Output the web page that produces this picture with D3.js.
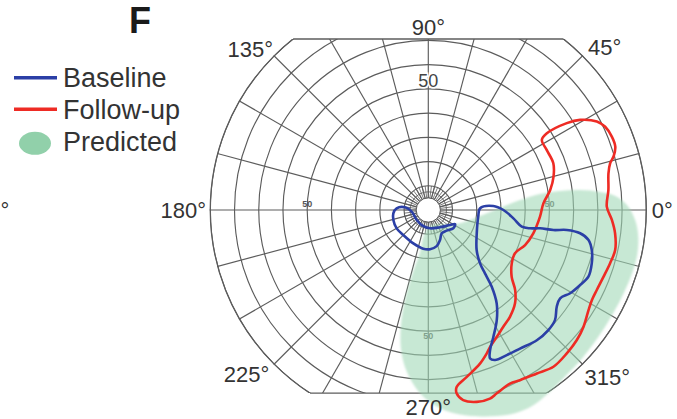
<!DOCTYPE html>
<html><head><meta charset="utf-8">
<script src="https://cdn.jsdelivr.net/npm/d3@7"></script>
<style>body{margin:0;background:#fff}svg{display:block}</style>
</head><body>
<svg id="chart" width="677" height="419"></svg>
<script>
// ---- data: [angle in degrees (counter-clockwise from 0°), eccentricity in degrees]
const ringValues = [10, 20, 30, 40, 50, 60, 70, 80, 90];
const innerRingValues = [5, 7.5];
const spokeAngles = [0,15,30,45,60,75,90,105,120,135,150,165,180,195,210,225,240,255,270,285,300,315,330,345];
const innerSpokeAngles = [0,7.5,15,22.5,30,37.5,45,52.5,60,67.5,75,82.5,90,97.5,105,112.5,120,127.5,135,142.5,150,157.5,165,172.5,180,187.5,195,202.5,210,217.5,225,232.5,240,247.5,255,262.5,270,277.5,285,292.5,300,307.5,315,322.5,330,337.5,345,352.5];
const angleLabels = ["0°","45°","90°","135°","180°","225°","270°","315°"];
const ringLabel = "50";
const seriesNames = ["Baseline", "Follow-up", "Predicted"];

const baselineMain = [[1.9,21.4],[3.5,26.9],[0,31.0],[-5.6,35.3],[-10.1,39.2],[-10.2,42.7],[-9.3,46.8],[-9.1,52.3],[-8.2,57.8],[-8.7,63.4],[-10.6,67.3],[-13.8,69.5],[-18.1,71.0],[-22.6,71.6],[-26.3,69.9],[-30.4,67.9],[-33.8,65.5],[-37.0,66.4],[-41.0,69.3],[-45,70.1],[-50.2,70.0],[-56.5,68.6],[-61.6,68.1],[-66.0,67.8],[-67.4,66.4],[-66.2,63.2],[-62.8,58.8],[-58.1,53.5],[-53.8,47.8],[-50.4,41.1],[-48.2,35.1],[-45.9,30.7],[-39.6,25.9],[-25.7,22.2],[-7.6,20.8]];
const baselineCentral = [[185.4,14.5],[176.9,13.1],[173.4,9.7],[185.8,6.9],[220.8,6.3],[246.3,6.8],[275.3,7.6],[304.1,8.6],[325.3,10.9],[332.3,12.5],[323.8,12.8],[311.6,11.4],[299.9,11.1],[291.3,13.3],[283.1,15.3],[272.5,16.2],[262.6,16.1],[245.8,15.1],[225,14.6],[210.1,15.1],[195.9,15.0]];
const followUp = [[31.7,55.1],[32.9,58.3],[32.1,67.5],[30.7,72.9],[27.7,78.6],[25.2,80.7],[21.8,81.6],[18.7,81.5],[16.1,79.6],[14.4,77.5],[11.5,75.9],[6.3,74.8],[1.1,73.7],[-3.1,75.9],[-7.1,77.7],[-12.1,78.9],[-16.3,78.2],[-20.9,77.4],[-25.4,77.0],[-28.8,77.1],[-32.0,78.0],[-37.0,80.2],[-41.2,81.5],[-46.0,82.3],[-51.4,82.8],[-56.4,81.0],[-61.7,79.8],[-64.8,79.2],[-69.5,80.8],[-71.9,81.9],[-75.8,81.7],[-79.6,79.8],[-81.2,76.7],[-80.9,74.0],[-77.0,70.7],[-71.4,66.9],[-67.8,63.9],[-65.7,62.0],[-61.6,59.5],[-57.3,57.3],[-52.6,55.5],[-47.1,52.6],[-42.7,48.8],[-38.7,44.1],[-32.6,40.9],[-26.5,40.0],[-19.9,42.5],[-12.5,44.4],[-3.4,46.2],[3.3,47.6],[9.3,51.0],[14.9,53.5],[20.5,55.1],[26.9,54.8]];
const predicted = [[-84,6.6],[-26.2,13.1],[-6.6,21.5],[1.6,29.6],[6.2,38.1],[8.2,46.6],[8.2,55.0],[7.5,63.2],[6.0,71.3],[4.3,77.4],[1.4,82.1],[-2.8,85.5],[-7.3,87.4],[-12.2,88.2],[-17.2,88.1],[-22.7,87.7],[-29.1,87.4],[-36.8,87.6],[-43.9,88.2],[-50.5,88.9],[-56.8,90.4],[-62.1,91.6],[-66.9,91.2],[-73.3,88.9],[-79.9,86.1],[-86.6,82.0],[-92.6,75.7],[-97.5,67.5],[-101.0,58.9],[-103.4,48.8],[-104.5,38.4],[-104.1,27.7],[-101,17.8],[-99.8,10.5]];

// ---- layout
const W = 677, H = 419;
const cx = 428.3, cy = 210;
const topClipDeg = 70.6, bottomClipDeg = 75.6;
const font = "'Liberation Sans', Arial, Helvetica, sans-serif";
const gridColor = "#5c5c5c";
const colors = {base: "#2b3fa6", follow: "#ee2b24", pred: "#9fd8b5", predLegend: "#91d0aa"};

const r = d3.scaleLinear().domain([0, 90]).range([0, 218]);
const toRad = a => (90 - a) * Math.PI / 180;

const svg = d3.select("#chart");
const defs = svg.append("defs");
const yTop = cy - r(topClipDeg), yBot = cy + r(bottomClipDeg);
defs.append("clipPath").attr("id", "clipRect").append("rect")
  .attr("x", 0).attr("y", yTop).attr("width", W).attr("height", yBot - yTop);
defs.append("clipPath").attr("id", "clipCirc").append("circle")
  .attr("cx", cx).attr("cy", cy).attr("r", r(90) + 0.6);
defs.append("filter").attr("id", "soft").attr("x", "-10%").attr("y", "-10%").attr("width", "120%").attr("height", "120%")
  .append("feGaussianBlur").attr("stdDeviation", 1.3);

const outer = svg.append("g").attr("clip-path", "url(#clipRect)");
const grid = outer.append("g").attr("clip-path", "url(#clipCirc)")
  .append("g").attr("transform", `translate(${cx},${cy})`);

// rings
grid.selectAll("circle.ring").data(ringValues).join("circle")
  .attr("class", "ring").attr("r", d => r(d))
  .attr("fill", "none").attr("stroke", gridColor).attr("stroke-width", 1.15);
grid.selectAll("circle.iring").data(innerRingValues).join("circle")
  .attr("class", "iring").attr("r", d => r(d))
  .attr("fill", "none").attr("stroke", gridColor).attr("stroke-width", 0.9);
// spokes
grid.selectAll("line.spoke").data(spokeAngles).join("line")
  .attr("class", "spoke")
  .attr("x1", d => d3.pointRadial(toRad(d), r(5))[0])
  .attr("y1", d => d3.pointRadial(toRad(d), r(5))[1])
  .attr("x2", d => d3.pointRadial(toRad(d), r(100))[0])
  .attr("y2", d => d3.pointRadial(toRad(d), r(100))[1])
  .attr("stroke", gridColor).attr("stroke-width", 1.15);
grid.selectAll("line.ispoke").data(innerSpokeAngles).join("line")
  .attr("class", "ispoke")
  .attr("x1", d => d3.pointRadial(toRad(d), r(5))[0])
  .attr("y1", d => d3.pointRadial(toRad(d), r(5))[1])
  .attr("x2", d => d3.pointRadial(toRad(d), r(10))[0])
  .attr("y2", d => d3.pointRadial(toRad(d), r(10))[1])
  .attr("stroke", gridColor).attr("stroke-width", 0.8);

// outer boundary: clipped circle + flat top/bottom
outer.append("circle").attr("cx", cx).attr("cy", cy).attr("r", r(90))
  .attr("fill", "none").attr("stroke", gridColor).attr("stroke-width", 1.3);
const halfTop = Math.sqrt(r(90) ** 2 - r(topClipDeg) ** 2);
const halfBot = Math.sqrt(r(90) ** 2 - r(bottomClipDeg) ** 2);
svg.append("line").attr("x1", cx - halfTop).attr("x2", cx + halfTop).attr("y1", yTop).attr("y2", yTop)
  .attr("stroke", gridColor).attr("stroke-width", 1.3);
svg.append("line").attr("x1", cx - halfBot).attr("x2", cx + halfBot).attr("y1", yBot).attr("y2", yBot)
  .attr("stroke", gridColor).attr("stroke-width", 1.3);

// ring labels "50"
const g = svg.append("g").attr("transform", `translate(${cx},${cy})`);
g.append("text").text(ringLabel).attr("x", 0).attr("y", -r(50) - 1.5)
  .attr("text-anchor", "middle").attr("font-family", font).attr("font-size", 18)
  .attr("fill", "#444").attr("stroke", "#fff").attr("stroke-width", 3).attr("paint-order", "stroke");
const smallLab = [[180, 0, -3], [0, 0, -3], [270, 0, 8]];
smallLab.forEach(([a, dx, dy]) => {
  const p = d3.pointRadial(toRad(a), r(50));
  g.append("text").text(ringLabel).attr("x", p[0] + dx).attr("y", p[1] + dy)
    .attr("text-anchor", "middle").attr("font-family", font).attr("font-size", 9)
    .attr("font-weight", "bold").attr("fill", "#555");
});

// data layers
const radial = d3.lineRadial().angle(d => toRad(d[0])).radius(d => r(d[1]))
  .curve(d3.curveCatmullRomClosed.alpha(0.5));
g.append("path").datum(predicted).attr("d", radial)
  .attr("fill", colors.pred).attr("fill-opacity", 0.58).attr("filter", "url(#soft)");
// central white disc
g.append("circle").attr("r", r(5)).attr("fill", "#fff").attr("stroke", gridColor).attr("stroke-width", 1);
g.append("path").datum(followUp).attr("d", radial)
  .attr("fill", "none").attr("stroke", colors.follow).attr("stroke-width", 2.6).attr("stroke-linejoin", "round");
[baselineMain, baselineCentral].forEach(s => {
  g.append("path").datum(s).attr("d", radial)
    .attr("fill", "none").attr("stroke", colors.base).attr("stroke-width", 2.6).attr("stroke-linejoin", "round");
});

// angle labels (positions: angle + radial distance in px, tuned for clipped shape)
const labelLayout = {"0°": [0, 234, 7.5], "45°": [42.7, 240, 7.5], "90°": [90, 182, 7], "135°": [137.9, 240, 7.5],
  "180°": [180, 245, 7.5], "225°": [222.1, 245, 7.5], "270°": [270, 197, 7.5], "315°": [316.9, 245, 7.5]};
svg.selectAll("text.ang").data(angleLabels).join("text").attr("class", "ang")
  .text(d => d)
  .attr("x", d => cx + d3.pointRadial(toRad(labelLayout[d][0]), labelLayout[d][1])[0])
  .attr("y", d => cy + d3.pointRadial(toRad(labelLayout[d][0]), labelLayout[d][1])[1] + labelLayout[d][2])
  .attr("text-anchor", "middle").attr("font-family", font).attr("font-size", 22).attr("fill", "#333");
// fragment of the neighbouring panel's label at the left edge
svg.append("text").text("°").attr("x", 0.5).attr("y", 218)
  .attr("font-family", font).attr("font-size", 22).attr("fill", "#333");

// panel letter
svg.append("text").text("F").attr("x", 129).attr("y", 33).attr("font-family", font)
  .attr("font-size", 36).attr("font-weight", "bold").attr("fill", "#1a1a1a");

// legend
const leg = svg.append("g");
leg.append("line").attr("x1", 14).attr("x2", 57).attr("y1", 77.7).attr("y2", 77.7)
  .attr("stroke", colors.base).attr("stroke-width", 3.5);
leg.append("line").attr("x1", 14).attr("x2", 57).attr("y1", 109.3).attr("y2", 109.3)
  .attr("stroke", colors.follow).attr("stroke-width", 3.5);
leg.append("ellipse").attr("cx", 35).attr("cy", 143.3).attr("rx", 16).attr("ry", 11.5).attr("fill", colors.predLegend);
leg.selectAll("text.lg").data(seriesNames).join("text").attr("class", "lg")
  .text(d => d).attr("x", 63).attr("y", (d, i) => 87 + i * 32)
  .attr("font-family", font).attr("font-size", 27).attr("fill", "#333");
</script>
</body></html>
